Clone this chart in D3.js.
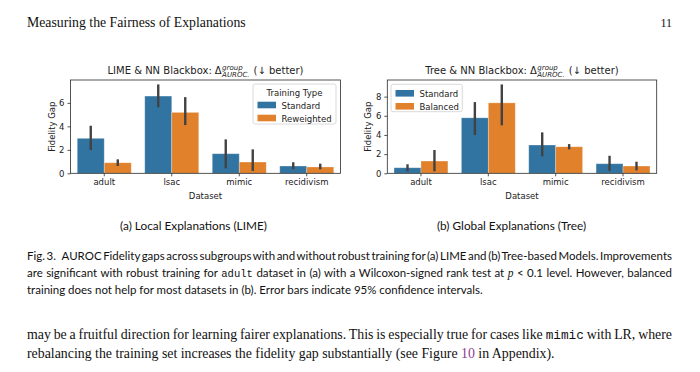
<!DOCTYPE html>
<html><head><meta charset="utf-8">
<script src="https://cdn.jsdelivr.net/npm/d3@7"></script>
<style>body{margin:0;background:#fff}svg{display:block}</style>
</head><body>
<svg id="page" width="700" height="372"></svg>
<script>
// ---------- data ----------
const categories = ["adult", "lsac", "mimic", "recidivism"];

const limeSeries = ["Standard", "Reweighted"];
const limeStandard   = [2.98, 6.58, 1.67, 0.62];
const limeStandardLo = [1.98, 5.62, 0.42, 0.34];
const limeStandardHi = [4.05, 7.57, 2.89, 0.94];
const limeReweighted   = [0.90, 5.19, 0.96, 0.54];
const limeReweightedLo = [0.62, 4.11, 0.20, 0.34];
const limeReweightedHi = [1.19, 6.49, 2.04, 0.82];
const limeTicks = [0, 2, 4, 6];

const treeSeries = ["Standard", "Balanced"];
const treeStandard   = [0.58, 5.79, 2.95, 1.00];
const treeStandardLo = [0.21, 3.99, 1.77, 0.24];
const treeStandardHi = [0.94, 7.43, 4.27, 1.83];
const treeBalanced   = [1.28, 7.35, 2.77, 0.76];
const treeBalancedLo = [0.21, 5.00, 2.50, 0.31];
const treeBalancedHi = [2.43, 9.27, 3.05, 1.21];
const treeTicks = [0, 2, 4, 6, 8];

const colors = ["#3274a1", "#e1812c"];
const errColor = "#424242";

const svg = d3.select("#page");
const CF = "'DejaVu Sans', sans-serif";
const FS = 8.5;

function drawChart(cfg) {
  const g = svg.append("g");
  const x0 = d3.scaleBand().domain(categories).range([cfg.left, cfg.right])
    .paddingInner(0.2).paddingOuter(0.1);
  const x1 = d3.scaleBand().domain(cfg.series).range([0, x0.bandwidth()]);
  const yMax = d3.max([...cfg.hi[0], ...cfg.hi[1]]) * 1.05;
  const y = d3.scaleLinear().domain([0, yMax]).range([cfg.bottom, cfg.top]);

  const rows = [];
  cfg.series.forEach((s, si) => categories.forEach((c, ci) => rows.push({
    s, si, c, v: cfg.values[si][ci], lo: cfg.lo[si][ci], hi: cfg.hi[si][ci]
  })));

  g.selectAll("rect.bar").data(rows).join("rect").attr("class", "bar")
    .attr("x", d => x0(d.c) + x1(d.s))
    .attr("width", x1.bandwidth())
    .attr("y", d => y(d.v))
    .attr("height", d => y(0) - y(d.v))
    .attr("fill", d => colors[d.si])
    .attr("stroke", "rgba(255,255,255,0.35)").attr("stroke-width", 0.8);

  g.selectAll("line.err").data(rows).join("line").attr("class", "err")
    .attr("x1", d => x0(d.c) + x1(d.s) + x1.bandwidth() / 2)
    .attr("x2", d => x0(d.c) + x1(d.s) + x1.bandwidth() / 2)
    .attr("y1", d => y(d.lo)).attr("y2", d => y(d.hi))
    .attr("stroke", errColor).attr("stroke-width", 2.4);

  // frame
  g.append("rect").attr("x", cfg.left).attr("y", cfg.top)
    .attr("width", cfg.right - cfg.left).attr("height", cfg.bottom - cfg.top)
    .attr("fill", "none").attr("stroke", "#2a2a2a").attr("stroke-width", 0.8);

  const xa = g.append("g").attr("transform", `translate(0,${cfg.bottom})`)
    .call(d3.axisBottom(x0).tickSize(3).tickPadding(3).tickSizeOuter(0));
  const ya = g.append("g").attr("transform", `translate(${cfg.left},0)`)
    .call(d3.axisLeft(y).tickValues(cfg.ticks).tickFormat(d3.format("d")).tickSize(3).tickPadding(3));
  [xa, ya].forEach(a => {
    a.select(".domain").remove();
    a.selectAll("line").attr("stroke", "#2a2a2a").attr("stroke-width", 0.8);
    a.selectAll("text").attr("font-family", CF).attr("font-size", FS).attr("fill", "#222");
  });

  g.append("text").attr("x", (cfg.left + cfg.right) / 2).attr("y", cfg.bottom + 26)
    .attr("text-anchor", "middle").attr("font-family", CF).attr("font-size", FS)
    .attr("fill", "#222").text("Dataset");
  g.append("text").attr("transform", `translate(${cfg.left - 16},${(cfg.top + cfg.bottom) / 2}) rotate(-90)`)
    .attr("text-anchor", "middle").attr("font-family", CF).attr("font-size", FS)
    .attr("fill", "#222").text("Fidelity Gap");

  // title
  const tg = g.append("g");
  const tfs = 10;
  const base = cfg.top - 6;
  let x = 0;
  const piece = (txt, dx, dy, size, style) => {
    const t = tg.append("text").attr("x", dx).attr("y", base + dy)
      .attr("font-family", CF).attr("font-size", size).attr("fill", "#222").text(txt);
    if (style) t.attr("font-style", style);
    return t.node().getComputedTextLength();
  };
  x += piece(cfg.titlePrefix, x, 0, tfs);
  x += 3;
  x += piece("Δ", x, 0, tfs);
  x += 0.5;
  const w1 = piece("group", x, -4.5, tfs * 0.7, "italic");
  const w2 = piece("AUROC.", x, 2.6, tfs * 0.7, "italic");
  x += Math.max(w1, w2) + 4;
  x += piece("(↓ better)", x, 0, tfs);
  tg.attr("transform", `translate(${(cfg.left + cfg.right) / 2 - x / 2},0)`);

  // legend
  const L = cfg.legend;
  const lg = g.append("g");
  lg.append("rect").attr("x", L.x).attr("y", L.y).attr("width", L.w).attr("height", L.h)
    .attr("rx", 2).attr("fill", "#fff").attr("fill-opacity", 0.8)
    .attr("stroke", "#d0d0d0").attr("stroke-width", 0.8);
  if (L.title) {
    lg.append("text").attr("x", L.x + L.w / 2).attr("y", L.titleY)
      .attr("text-anchor", "middle").attr("font-family", CF).attr("font-size", FS)
      .attr("fill", "#222").text(L.title);
  }
  cfg.series.forEach((s, i) => {
    const by = L.firstY + i * L.step;
    lg.append("rect").attr("x", L.x + 4.5).attr("y", by - 6.8).attr("width", 18.5).attr("height", 6.6)
      .attr("fill", colors[i]);
    lg.append("text").attr("x", L.x + 28.5).attr("y", by).attr("font-family", CF)
      .attr("font-size", FS).attr("fill", "#222").text(s);
  });
}

drawChart({
  left: 70.5, right: 340.5, top: 80, bottom: 173.3,
  series: limeSeries,
  values: [limeStandard, limeReweighted],
  lo: [limeStandardLo, limeReweightedLo],
  hi: [limeStandardHi, limeReweightedHi],
  ticks: limeTicks,
  titlePrefix: "LIME & NN Blackbox:",
  legend: { x: 253, y: 84, w: 83, h: 40, title: "Training Type", titleY: 95.5, firstY: 108.5, step: 13 }
});
drawChart({
  left: 387.3, right: 656.7, top: 80, bottom: 173.3,
  series: treeSeries,
  values: [treeStandard, treeBalanced],
  lo: [treeStandardLo, treeBalancedLo],
  hi: [treeStandardHi, treeBalancedHi],
  ticks: treeTicks,
  titlePrefix: "Tree & NN Blackbox:",
  legend: { x: 391, y: 84.3, w: 71.3, h: 27.4, title: null, firstY: 96.8, step: 13 }
});

// ---------- page text ----------
const SERIF = "'Liberation Serif', 'DejaVu Serif', serif";
const SANS = "Lato, 'Open Sans', sans-serif";
const MONO = "'Liberation Mono', 'DejaVu Sans Mono', monospace";

function addLine(x, y, parts, font, size, color) {
  const t = svg.append("text").attr("x", x).attr("y", y).attr("font-family", font)
    .attr("font-size", size).attr("fill", color || "#111")
    .style("white-space", "pre");
  parts.forEach(p => {
    if (typeof p === "string") t.append("tspan").text(p);
    else {
      const ts = t.append("tspan").text(p.t);
      if (p.mono) ts.attr("font-family", MONO).attr("font-size", size * 0.92);
      if (p.it) ts.attr("font-style", "italic").attr("font-family", SERIF);
      if (p.color) ts.attr("fill", p.color);
    }
  });
  return t;
}
function fitSize(t, target) {
  const fs = +t.attr("font-size");
  const w = t.node().getComputedTextLength();
  const nfs = fs * target / w;
  t.attr("font-size", nfs);
  t.selectAll("tspan").each(function () {
    const f = this.getAttribute("font-size");
    if (f) this.setAttribute("font-size", (+f) * nfs / fs);
  });
  return nfs;
}
function justify(t, target) {
  const w = t.node().getComputedTextLength();
  const spaces = (t.text().match(/ /g) || []).length;
  t.attr("word-spacing", (target - w) / spaces);
}

// header
const hdr = addLine(27, 26.5, ["Measuring the Fairness of Explanations"], SERIF, 12);
fitSize(hdr, 219);
addLine(672, 26.5, ["11"], SERIF, 12).attr("text-anchor", "end");

// subcaptions
const sa = addLine(193.5, 229.5, ["(a) Local Explanations (LIME)"], SANS, 11).attr("text-anchor", "middle");
const subFs = fitSize(sa, 147);
addLine(511.5, 229.5, ["(b) Global Explanations (Tree)"], SANS, subFs).attr("text-anchor", "middle");

// caption
const c3 = addLine(27, 294, ["training does not help for most datasets in (b). Error bars indicate 95% confidence intervals."], SANS, 10);
const capFs = fitSize(c3, 456);
const c1 = addLine(27, 260, ["Fig. 3.\u2002AUROC Fidelity gaps across subgroups with and without robust training for (a) LIME and (b) Tree-based Models. Improvements"], SANS, capFs);
justify(c1, 645);
const c2 = addLine(27, 277, ["are significant with robust training for ", { t: "adult", mono: true }, " dataset in (a) with a Wilcoxon-signed rank test at ", { t: "p", it: true }, " < 0.1 level. However, balanced"], SANS, capFs);
justify(c2, 645);

// body
const b2 = addLine(27, 357.5, ["rebalancing the training set increases the fidelity gap substantially (see Figure ", { t: "10", color: "#8b3a8f" }, " in Appendix)."], SERIF, 13);
const bodyFs = fitSize(b2, 528);
const b1 = addLine(27, 338.5, ["may be a fruitful direction for learning fairer explanations. This is especially true for cases like ", { t: "mimic", mono: true }, " with LR, where"], SERIF, bodyFs);
b1.selectAll("tspan").filter(function () { return this.getAttribute("font-family"); }).attr("font-size", bodyFs * 0.92);
justify(b1, 645);
</script>
</body></html>
